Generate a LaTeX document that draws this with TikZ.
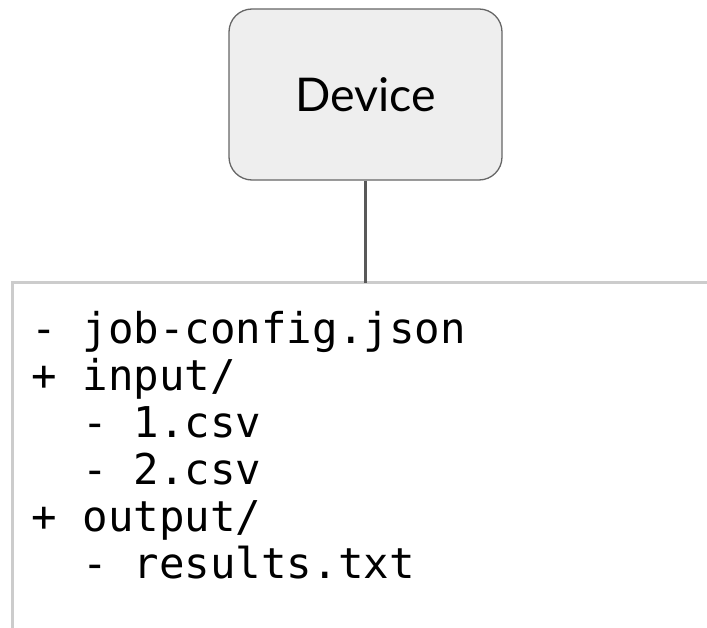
\documentclass[tikz,border=0pt]{standalone}
\usepackage{fontspec}
\setmainfont{Lato}
\newfontfamily\codefont{DejaVu Sans Mono}
\definecolor{devfill}{HTML}{EEEEEE}
\definecolor{devdraw}{HTML}{666666}
\definecolor{linkcol}{HTML}{595959}
\definecolor{boxline}{HTML}{CCCCCC}
\begin{document}
\begin{tikzpicture}[x=1bp,y=-1bp,
  devbox/.style={draw=devdraw,line width=1.3bp,fill=devfill,rounded corners=23bp,
    minimum width=273bp,minimum height=171bp,inner sep=0pt,
    font=\fontsize{46.5bp}{50bp}\selectfont},
  link/.style={draw=linkcol,line width=2.4bp},
  frame/.style={draw=boxline,line width=2.5bp},
  codeline/.style={anchor=base west,inner sep=0pt,font=\codefont\fontsize{42.4bp}{47bp}\selectfont}]
\useasboundingbox (0,0) rectangle (707,628);
\clip (0,0) rectangle (707,628);
\node[devbox] (dev) at (365.5,94.5) {Device};
\coordinate (boxtop) at (365.5,282.5);
\coordinate (boxtl) at (12.5,282.5);
\coordinate (boxtr) at (720,282.5);
\coordinate (boxbl) at (12.5,640);
\draw[frame] (boxbl) -- (boxtl) -- (boxtr);
\draw[link] (dev.south) -- (boxtop);
\node[codeline] (l1) at (31.5,343) {- job-config.json};
\node[codeline] (l2) at (31.5,390) {+ input/};
\node[codeline] (l3) at (31.5,437) {\ \ - 1.csv};
\node[codeline] (l4) at (31.5,484) {\ \ - 2.csv};
\node[codeline] (l5) at (31.5,531) {+ output/};
\node[codeline] (l6) at (31.5,578) {\ \ - results.txt};
\end{tikzpicture}
\end{document}
